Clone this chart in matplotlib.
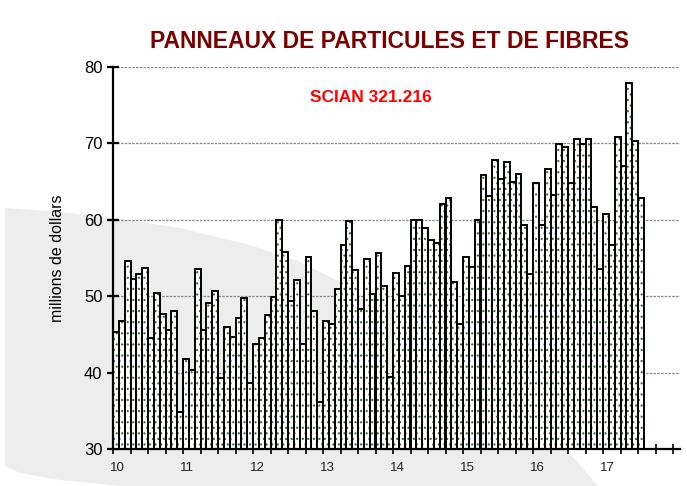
import numpy as np
import matplotlib
matplotlib.use('Agg')
import matplotlib.pyplot as plt
from matplotlib.patches import Polygon

# monthly values, millions of dollars (Jan 2010 - Jul 2017)
v2010 = [45.3, 46.7, 54.6, 52.2, 52.9, 53.7, 44.5, 50.4, 47.7, 45.6, 48.0, 34.9]
v2011 = [41.8, 40.3, 53.5, 45.6, 49.1, 50.7, 39.3, 46.0, 44.7, 47.2, 49.8, 38.6]
v2012 = [43.8, 44.5, 47.6, 49.9, 60.0, 55.8, 49.4, 52.1, 43.8, 55.1, 48.0, 36.1]
v2013 = [46.7, 46.3, 51.0, 56.7, 59.8, 53.4, 48.3, 54.9, 50.3, 55.6, 51.4, 39.4]
v2014 = [53.0, 50.0, 54.0, 60.0, 60.0, 58.9, 57.4, 57.0, 62.1, 62.9, 51.8, 46.3]
v2015 = [55.1, 53.8, 60.0, 65.8, 63.1, 67.8, 65.3, 67.6, 64.9, 66.0, 59.3, 52.9]
v2016 = [64.8, 59.3, 66.6, 63.3, 69.9, 69.5, 64.8, 70.6, 69.9, 70.6, 61.7, 53.5]
v2017 = [60.8, 56.7, 70.8, 67.1, 77.9, 70.3, 62.8]
year_labels = ['10', '11', '12', '13', '14', '15', '16', '17']

values = v2010 + v2011 + v2012 + v2013 + v2014 + v2015 + v2016 + v2017
months = np.arange(len(values))

plt.rcParams['font.family'] = ['Liberation Sans Narrow', 'Liberation Sans', 'DejaVu Sans']
plt.rcParams['hatch.linewidth'] = 0.8

W, H = 687, 486
fig = plt.figure(figsize=(W / 100, H / 100), dpi=100)

# grey swoosh in the background
bg = fig.add_axes([0, 0, 1, 1], zorder=0)
bg.set_xlim(0, W)
bg.set_ylim(H, 0)
bg.axis('off')
top = [(5, 208), (60, 212), (113, 218), (180, 228), (250, 245), (300, 262),
       (340, 282), (400, 318), (460, 362), (520, 408), (560, 442), (598, 486)]
bottom = [(120, 486), (60, 480), (20, 473), (5, 466)]
bg.add_patch(Polygon(top + bottom, closed=True, facecolor='#ededed', edgecolor='none'))

ax = fig.add_axes([113 / W, 1 - 449 / H, (680 - 113) / W, (449 - 67) / H], zorder=1)
ax.set_facecolor('none')

ax.bar(months, np.array(values) - 30, bottom=30, width=1.0, align='edge',
       color='white', edgecolor='#3d6b3d', hatch='...', linewidth=0, zorder=2)
ax.bar(months, np.array(values) - 30, bottom=30, width=1.0, align='edge',
       color='none', edgecolor='black', linewidth=1.4, zorder=3)

ax.set_xlim(0, 97.2)
ax.set_ylim(30, 80)
ax.set_yticks([30, 40, 50, 60, 70, 80])
ax.set_xticks(np.arange(0, 97, 3))
ax.set_xticklabels([])
for k, lab in enumerate(year_labels):
    ax.text(12 * k + 0.7, -0.035, lab, transform=ax.get_xaxis_transform(),
            ha='center', va='top', fontsize=9.5, color='#222222')

ax.yaxis.grid(True, color='#888888', linestyle=(0, (2, 1)), linewidth=0.9, zorder=1)
ax.set_axisbelow(True)
for s in ['top', 'right']:
    ax.spines[s].set_visible(False)
ax.spines['left'].set_linewidth(1.6)
ax.spines['bottom'].set_linewidth(1.6)
ax.tick_params(axis='y', direction='inout', length=9, width=1.6, labelsize=12, pad=3)
ax.tick_params(axis='x', direction='inout', length=7, width=1.2)

ax.set_ylabel('millions de dollars', fontsize=11.5, labelpad=14)

fig.text(390 / W, 1 - 42 / H, 'PANNEAUX DE PARTICULES ET DE FIBRES', ha='center', va='center',
         fontsize=16.5, fontweight='bold', color='#7a0000')
fig.text(371 / W, 1 - 97 / H, 'SCIAN 321.216', ha='center', va='center',
         fontsize=12.5, fontweight='bold', color='#ff0000')

fig.savefig('out.png', dpi=100)
